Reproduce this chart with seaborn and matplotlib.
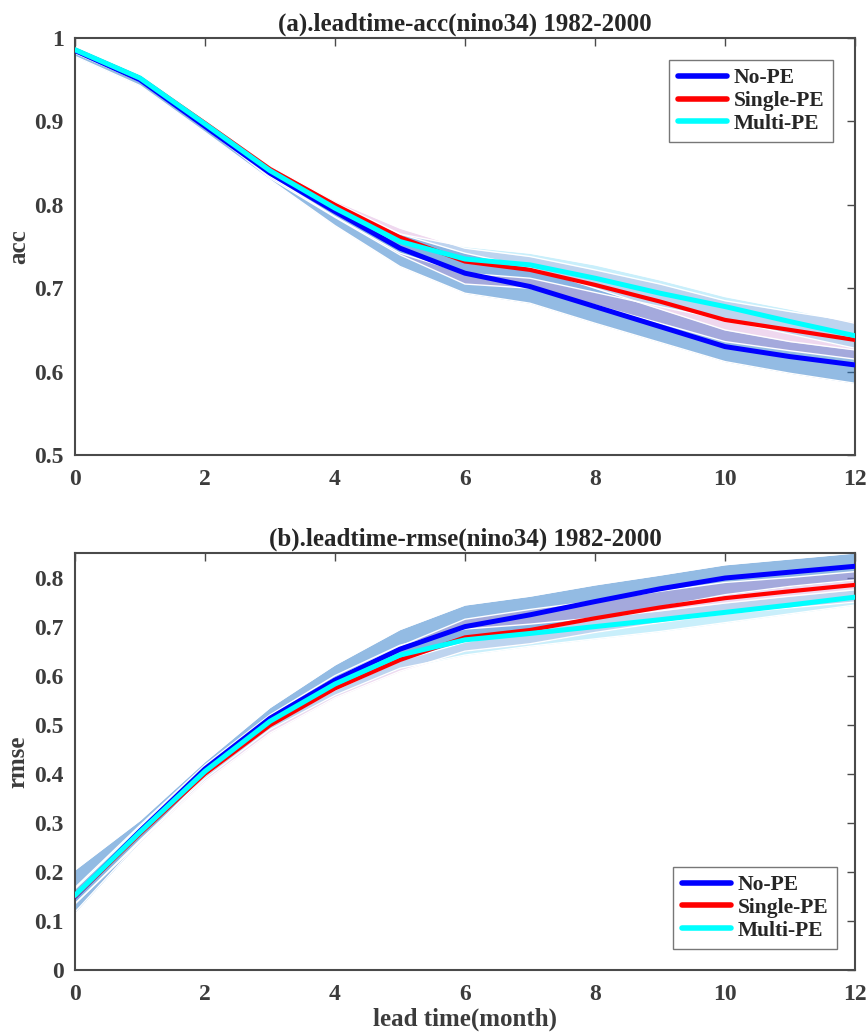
import numpy as np
import pandas as pd
import matplotlib
matplotlib.use("Agg")
import matplotlib.pyplot as plt
import seaborn as sns
from matplotlib.ticker import FuncFormatter

# ---------------- data ----------------
lead = [0, 1, 2, 3, 4, 5, 6, 7, 8, 9, 10, 11, 12]
series_names = ["No-PE", "Single-PE", "Multi-PE"]

acc_nope = [0.985, 0.950, 0.894, 0.838, 0.792, 0.748, 0.718, 0.702, 0.678, 0.654, 0.630, 0.618, 0.608]
acc_single = [0.986, 0.952, 0.898, 0.843, 0.800, 0.761, 0.732, 0.722, 0.704, 0.684, 0.662, 0.650, 0.638]
acc_multi = [0.986, 0.952, 0.897, 0.841, 0.796, 0.756, 0.735, 0.728, 0.712, 0.694, 0.678, 0.660, 0.643]

acc_nope_lo = [0.978, 0.943, 0.887, 0.830, 0.775, 0.726, 0.694, 0.682, 0.658, 0.635, 0.612, 0.598, 0.586]
acc_nope_hi = [0.990, 0.957, 0.900, 0.845, 0.800, 0.765, 0.742, 0.725, 0.700, 0.675, 0.650, 0.636, 0.626]
acc_single_lo = [0.982, 0.948, 0.893, 0.832, 0.785, 0.740, 0.705, 0.700, 0.680, 0.658, 0.636, 0.625, 0.615]
acc_single_hi = [0.990, 0.956, 0.903, 0.848, 0.805, 0.772, 0.748, 0.738, 0.722, 0.705, 0.685, 0.672, 0.660]
acc_multi_lo = [0.982, 0.948, 0.892, 0.834, 0.786, 0.742, 0.718, 0.712, 0.695, 0.678, 0.662, 0.645, 0.628]
acc_multi_hi = [0.990, 0.956, 0.902, 0.847, 0.803, 0.765, 0.750, 0.742, 0.728, 0.710, 0.690, 0.675, 0.658]

rmse_nope = [0.150, 0.283, 0.410, 0.513, 0.591, 0.654, 0.700, 0.724, 0.751, 0.777, 0.799, 0.811, 0.823]
rmse_single = [0.150, 0.278, 0.400, 0.499, 0.574, 0.632, 0.678, 0.693, 0.717, 0.739, 0.758, 0.772, 0.785]
rmse_multi = [0.152, 0.281, 0.405, 0.507, 0.583, 0.642, 0.673, 0.686, 0.700, 0.714, 0.729, 0.744, 0.760]

rmse_nope_lo = [0.118, 0.262, 0.395, 0.498, 0.570, 0.630, 0.668, 0.690, 0.715, 0.740, 0.765, 0.782, 0.795]
rmse_nope_hi = [0.204, 0.305, 0.425, 0.535, 0.622, 0.694, 0.744, 0.762, 0.785, 0.805, 0.826, 0.838, 0.850]
rmse_single_lo = [0.135, 0.262, 0.385, 0.483, 0.555, 0.609, 0.650, 0.665, 0.688, 0.708, 0.726, 0.738, 0.750]
rmse_single_hi = [0.165, 0.292, 0.415, 0.515, 0.595, 0.660, 0.715, 0.735, 0.752, 0.772, 0.790, 0.800, 0.812]
rmse_multi_lo = [0.135, 0.265, 0.390, 0.490, 0.560, 0.615, 0.642, 0.660, 0.675, 0.690, 0.708, 0.726, 0.744]
rmse_multi_hi = [0.168, 0.295, 0.418, 0.520, 0.600, 0.662, 0.695, 0.705, 0.718, 0.732, 0.748, 0.762, 0.775]

x_ticks = [0, 2, 4, 6, 8, 10, 12]
acc_ticks = [0.5, 0.6, 0.7, 0.8, 0.9, 1.0]
rmse_ticks = [0, 0.1, 0.2, 0.3, 0.4, 0.5, 0.6, 0.7, 0.8]

# ---------------- style ----------------
sns.set_style("white")
plt.rcParams["font.family"] = ["Liberation Serif", "DejaVu Serif"]
plt.rcParams["font.weight"] = "bold"
plt.rcParams["axes.labelweight"] = "bold"
plt.rcParams["axes.titleweight"] = "bold"

line_colors = {"No-PE": "#0000ff", "Single-PE": "#ff0000", "Multi-PE": "#00ffff"}
line_widths = {"No-PE": 3.6, "Single-PE": 3.0, "Multi-PE": 3.6}
band_colors = {"No-PE": ("#2878c8", 0.5), "Single-PE": ("#cc80cc", 0.3), "Multi-PE": ("#4dccf2", 0.3)}
axis_color = "#4a4a4a"
tick_text_color = "#3c3c3c"
text_color = "#262626"

fig = plt.figure(figsize=(8.68, 10.36), dpi=100)
ax1 = fig.add_axes([0.0864, 0.5608, 0.8986, 0.4025])
ax2 = fig.add_axes([0.0864, 0.0637, 0.8986, 0.4025])


def draw(ax, vals, bands, ylim, yticks, title, ylabel, legend_loc, legend_anchor):
    for name in series_names:
        lo, hi = bands[name]
        c, a = band_colors[name]
        ax.fill_between(lead, lo, hi, color=c, alpha=a, linewidth=0)
        ax.plot(lead, lo, color="white", lw=1.0)
        ax.plot(lead, hi, color="white", lw=1.0)
    df = pd.DataFrame({"lead": lead * 3,
                       "value": vals["No-PE"] + vals["Single-PE"] + vals["Multi-PE"],
                       "series": sum([[n] * len(lead) for n in series_names], [])})
    for name in series_names:
        sub = df[df["series"] == name]
        sns.lineplot(data=sub, x="lead", y="value", ax=ax, color=line_colors[name],
                     lw=line_widths[name], label=name, zorder=5)
    ax.set_xlim(0, 12)
    ax.set_ylim(*ylim)
    ax.set_xticks(x_ticks)
    ax.set_yticks(yticks)
    ax.yaxis.set_major_formatter(FuncFormatter(lambda v, p: f"{v:g}"))
    ax.tick_params(direction="in", length=6, width=1.0, colors=axis_color,
                   top=True, right=True, labelsize=17)
    ax.tick_params(axis="x", pad=10)
    ax.tick_params(axis="y", pad=8)
    for lab in ax.get_xticklabels() + ax.get_yticklabels():
        lab.set_color(tick_text_color)
        lab.set_fontweight("bold")
    for sp in ax.spines.values():
        sp.set_visible(True)
        sp.set_color(axis_color)
        sp.set_linewidth(1.5)
    ax.set_title(title, fontsize=18, fontweight="bold", color=text_color, pad=5)
    ax.set_ylabel(ylabel, fontsize=18, fontweight="bold", color=tick_text_color)
    ax.yaxis.set_label_coords(-0.058, 0.5)
    ax.set_xlabel("")
    leg = ax.legend(loc=legend_loc, bbox_to_anchor=legend_anchor, fontsize=15.5,
                    frameon=True, fancybox=False, edgecolor="#555555",
                    handlelength=2.3, handletextpad=0.3, borderpad=0.4,
                    labelspacing=0.12, borderaxespad=0.0)
    leg.get_frame().set_linewidth(1.0)
    for t in leg.get_texts():
        t.set_fontweight("bold")
        t.set_color(text_color)
    for h in leg.get_lines():
        h.set_linewidth(4)


draw(ax1,
     {"No-PE": acc_nope, "Single-PE": acc_single, "Multi-PE": acc_multi},
     {"No-PE": (acc_nope_lo, acc_nope_hi), "Single-PE": (acc_single_lo, acc_single_hi),
      "Multi-PE": (acc_multi_lo, acc_multi_hi)},
     (0.5, 1.0), acc_ticks, "(a).leadtime-acc(nino34) 1982-2000", "acc",
     "upper right", (0.972, 0.948))

draw(ax2,
     {"No-PE": rmse_nope, "Single-PE": rmse_single, "Multi-PE": rmse_multi},
     {"No-PE": (rmse_nope_lo, rmse_nope_hi), "Single-PE": (rmse_single_lo, rmse_single_hi),
      "Multi-PE": (rmse_multi_lo, rmse_multi_hi)},
     (0, 0.85), rmse_ticks, "(b).leadtime-rmse(nino34) 1982-2000", "rmse",
     "lower right", (0.977, 0.05))
ax2.set_xlabel("lead time(month)", fontsize=18, fontweight="bold", color=tick_text_color, labelpad=2)

fig.savefig("out.png", dpi=100, facecolor="white")
